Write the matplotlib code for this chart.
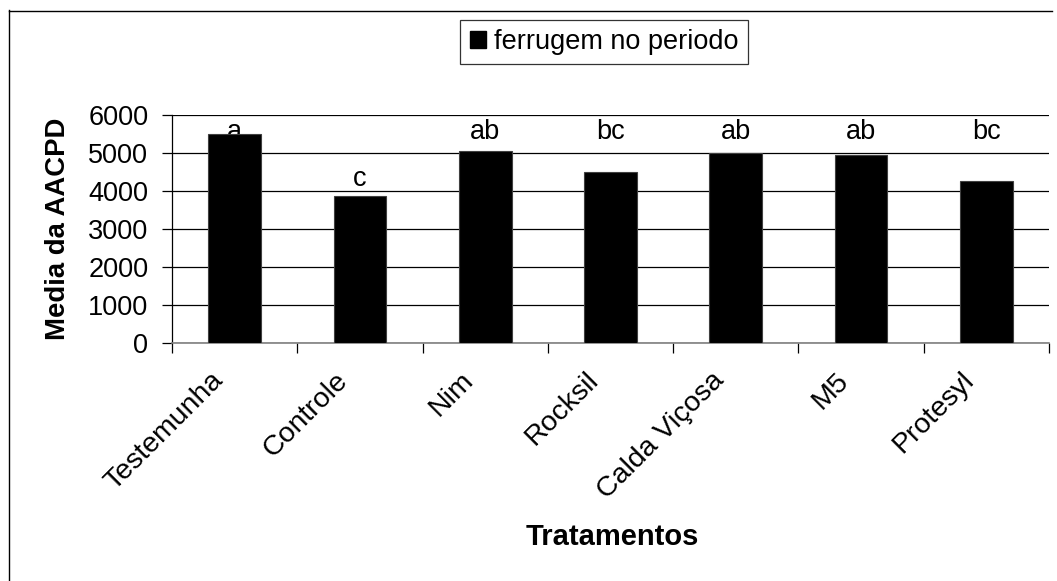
import matplotlib
matplotlib.use("Agg")
import matplotlib.pyplot as plt
import matplotlib.transforms as mtransforms
from matplotlib.lines import Line2D
from matplotlib.patches import Patch

categories = ["Testemunha", "Controle", "Nim", "Rocksil", "Calda Viçosa", "M5", "Protesyl"]
values = [5500, 3860, 5045, 4490, 4990, 4940, 4265]
letters = ["a", "c", "ab", "bc", "ab", "ab", "bc"]
letter_y = [5363, 4130, 5363, 5363, 5363, 5363, 5363]
yticks = [0, 1000, 2000, 3000, 4000, 5000, 6000]

plt.rcParams['font.family'] = ['Liberation Sans', 'DejaVu Sans']
FS = 19.5

W, H = 1057, 581
fig = plt.figure(figsize=(W / 100, H / 100), dpi=100)
ax = fig.add_axes([172 / W, 1 - 342.7 / H, (1049 - 172) / W, (342.7 - 115) / H])

x = list(range(len(categories)))
ax.bar(x, values, width=0.42, color="black", edgecolor="#404040", linewidth=0.8, zorder=3)
for xi, lab, ly in zip(x, letters, letter_y):
    ax.text(xi, ly, lab, ha="center", va="baseline", fontsize=FS, zorder=2)

ax.set_xlim(-0.5, len(categories) - 0.5)
ax.set_ylim(0, 6000)
ax.set_yticks(yticks)
ax.set_yticklabels([str(v) for v in yticks], fontsize=FS)
ax.yaxis.grid(True, color="black", linewidth=0.9, zorder=0)
ax.set_axisbelow(True)

ax.set_xticks(x)
ax.set_xticklabels(categories, rotation=45, ha="right", va="top",
                   rotation_mode="anchor", fontsize=20.5)
ax.tick_params(axis="x", which="major", length=0, pad=22)
offset = mtransforms.ScaledTranslation(-25 / 100, 6 / 100, fig.dpi_scale_trans)
for lbl in ax.get_xticklabels():
    lbl.set_transform(lbl.get_transform() + offset)
ax.set_xticks([i - 0.5 for i in range(len(categories) + 1)], minor=True)
ax.tick_params(axis="x", which="minor", length=7, width=0.9, color="black", direction="out")
ax.tick_params(axis="y", length=7, width=0.9, direction="out", pad=10)

ax.spines["top"].set_visible(False)
ax.spines["right"].set_visible(False)
ax.spines["left"].set_color("black")
ax.spines["left"].set_linewidth(0.9)
ax.spines["bottom"].set_color("#808080")
ax.spines["bottom"].set_linewidth(1.2)

ax.set_ylabel("Media da AACPD", fontsize=19.8, fontweight="bold", va="center")
ax.yaxis.set_label_coords((58 - 172) / 877, 0.5)
fig.text(612 / W, 1 - 537 / H, "Tratamentos", fontsize=21, fontweight="bold",
         ha="center", va="center")

handle = Patch(facecolor="black", edgecolor="black")
leg = fig.legend([handle], ["ferrugem no periodo"], loc="center",
                 bbox_to_anchor=(604 / W, 1 - 42 / H), fontsize=FS,
                 frameon=True, fancybox=False, handlelength=0.6, handleheight=0.6,
                 handletextpad=0.3, borderpad=0.35)
leg.get_frame().set_edgecolor("black")
leg.get_frame().set_linewidth(0.9)

# outer chart border (left and top visible)
fig.add_artist(Line2D([8.5 / W, 8.5 / W], [1 - 10 / H, 0], transform=fig.transFigure,
                      color="black", linewidth=1.0))
fig.add_artist(Line2D([8.5 / W, 1052 / W], [1 - 10.5 / H, 1 - 10.5 / H], transform=fig.transFigure,
                      color="black", linewidth=1.0))

fig.savefig("out.png", dpi=100)
